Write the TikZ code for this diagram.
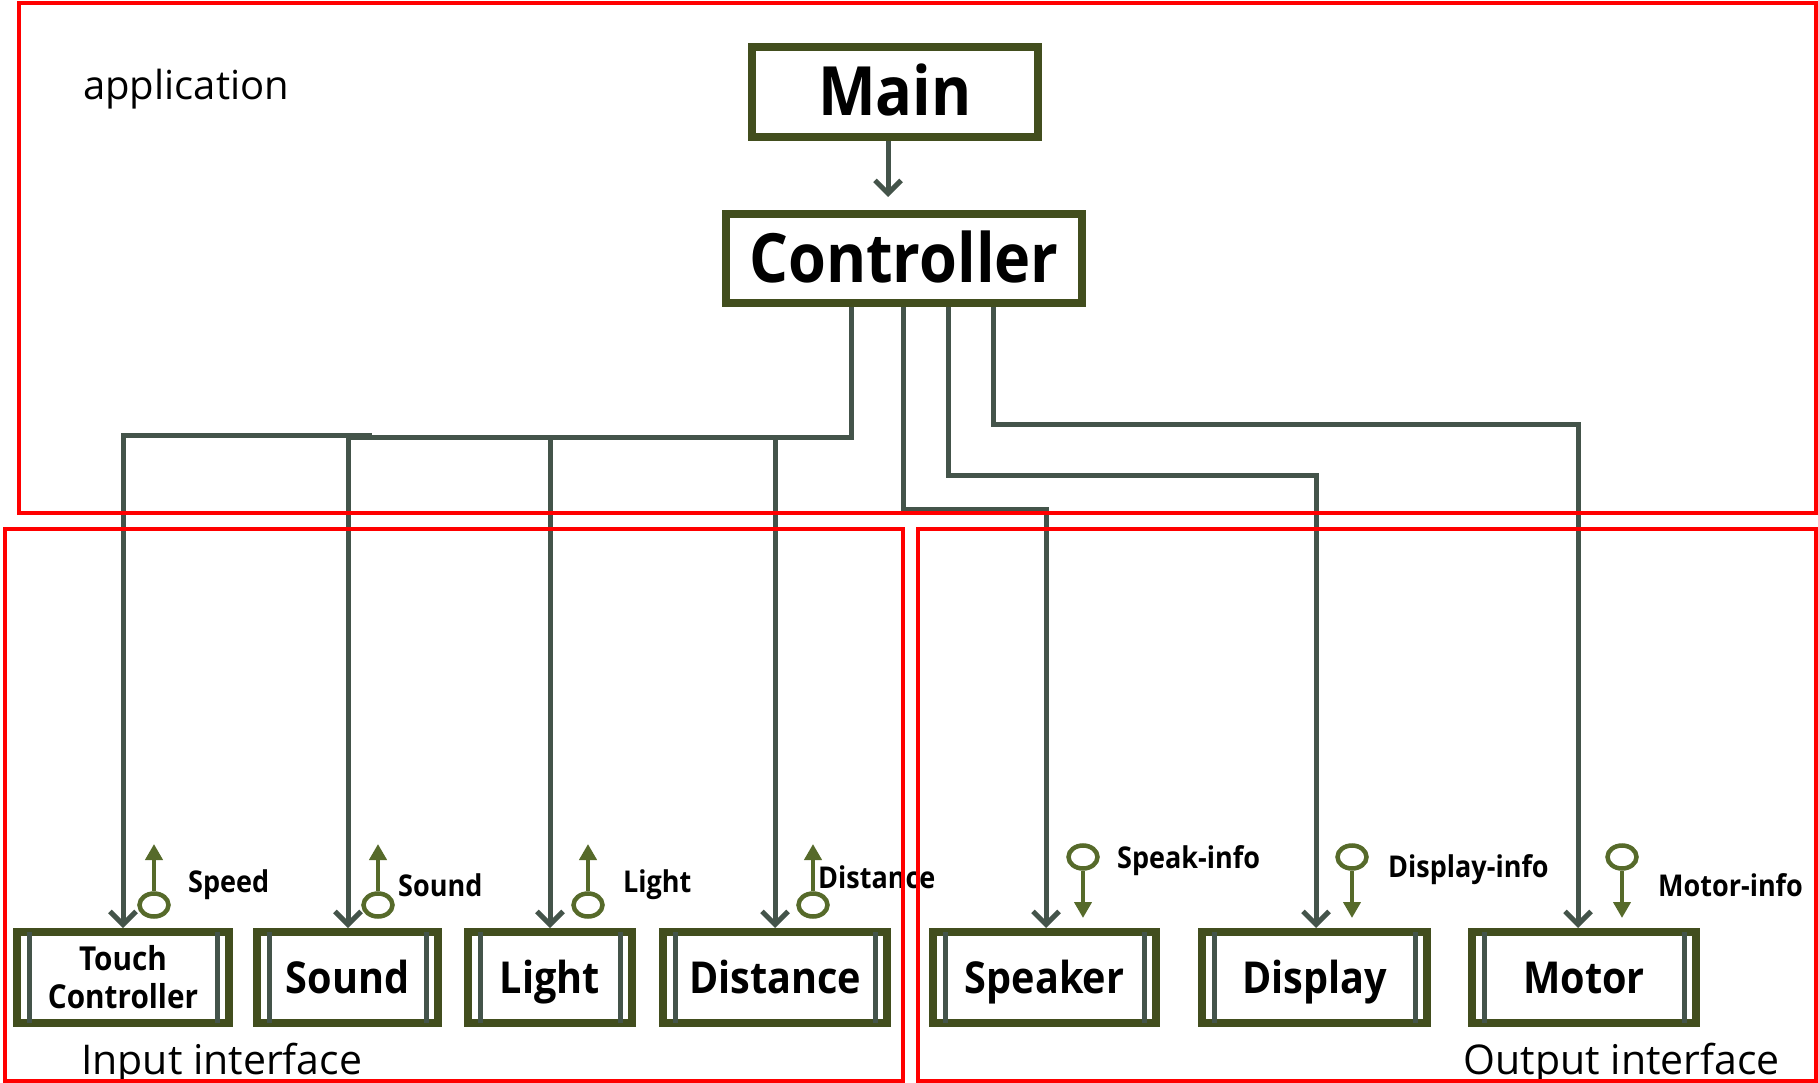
\documentclass[tikz,border=0pt]{standalone}
\usepackage{fontspec}
\setmainfont{Open Sans}[BoldFeatures={FakeStretch=0.9}]
\usetikzlibrary{arrows.meta,shapes.geometric,backgrounds}

\definecolor{regionred}{RGB}{255,0,0}
\definecolor{boxline}{RGB}{66,78,30}
\definecolor{wire}{RGB}{68,84,74}
\definecolor{flow}{RGB}{86,106,42}

\tikzset{
  region/.style={draw=regionred, line width=4pt},
  bigbox/.style={draw=boxline, line width=8pt, fill=white, inner sep=0pt,
    font=\bfseries\fontsize{68}{72}\selectfont, text height=48pt, text depth=0pt},
  modframe/.style={draw=boxline, line width=8pt, fill=white, inner sep=0pt,
    minimum height=91pt, align=center},
  module/.style={modframe, font=\bfseries\fontsize{44}{48}\selectfont,
    text height=31pt, text depth=0pt},
  bar/.style={draw=wire, line width=5pt},
  feed/.style={draw=wire, line width=5pt,
    -{Straight Barb[length=13pt,width=26pt,line width=5pt]}},
  wireline/.style={draw=wire, line width=5pt},
  dot/.style={ellipse, draw=flow, line width=4.5pt, minimum width=29pt,
    minimum height=23pt, inner sep=0pt},
  flowarrow/.style={draw=flow, line width=4.5pt,
    -{Triangle[length=16pt,width=17pt]}},
  flowlabel/.style={anchor=west, inner sep=0pt, font=\bfseries\fontsize{30}{34}\selectfont},
  regionlabel/.style={inner sep=0pt, font=\fontsize{41}{46}\selectfont},
}

\newcommand{\modbars}[1]{%
  \draw[bar] ([xshift=16pt,yshift=-4pt]#1.north west) -- ([xshift=16pt,yshift=4pt]#1.south west);
  \draw[bar] ([xshift=-16pt,yshift=-4pt]#1.north east) -- ([xshift=-16pt,yshift=4pt]#1.south east);
}

\begin{document}
\begin{tikzpicture}[x=1pt,y=-1pt]
\useasboundingbox (0,0) rectangle (1818,1083);

% top level
\node[bigbox, minimum width=286pt, minimum height=90pt] (main) at (895,92) {Main};
\node[bigbox, minimum width=356pt, minimum height=89pt] (ctrl) at (904,258.5) {Controller};

% interface modules
\node[modframe, minimum width=212pt, font=\bfseries\fontsize{33}{38}\selectfont]
  (touch) at (123,977.5) {Touch\\Controller};
\node[module, minimum width=181pt] (sound) at (347.5,977.5) {Sound};
\node[module, minimum width=164pt] (light) at (550,977.5) {Light};
\node[module, minimum width=224pt] (distance) at (775,977.5) {Distance};
\node[module, minimum width=223pt] (speaker) at (1044.5,977.5) {Speaker};
\node[module, minimum width=225pt] (display) at (1314.5,977.5) {Display};
\node[module, minimum width=224pt] (motor) at (1584,977.5) {Motor};
\foreach \m in {touch,sound,light,distance,speaker,display,motor} {\modbars{\m}}

% bend points of the call lines
\coordinate (busT) at (372,435);
\coordinate (busL) at (348,437);
\coordinate (bendSp) at (1046,509);
\coordinate (bendDi) at (1316,475);
\coordinate (bendMo) at (1578,424);

\begin{pgfonlayer}{background}
  \draw[feed] (main.south -| 888,0) -- ([yshift=13pt]ctrl.north -| 888,0);
  % calls to the input interface
  \draw[wireline] ([xshift=-53pt]ctrl.south) |- (busL);
  \draw[feed] (busL) -- (busL |- sound.north);
  \draw[feed] (busT) -| (touch.north);
  \draw[feed] (busL -| light.north) -- (light.north);
  \draw[feed] (busL -| distance.north) -- (distance.north);
  % calls to the output interface
  \draw[feed] ([xshift=-1pt]ctrl.south) |- (bendSp) -- (bendSp |- speaker.north);
  \draw[feed] ([xshift=44pt]ctrl.south) |- (bendDi) -- (bendDi |- display.north);
  \draw[feed] ([xshift=89pt]ctrl.south) |- (bendMo) -- (bendMo |- motor.north);
\end{pgfonlayer}

% data flows
\foreach \n/\x/\t/\lx/\ly in {dSpeed/154/Speed/188/885, dSound/378/Sound/398/885,
    dLight/588/Light/623/885, dDist/813/Distance/818/877} {
  \node[dot] (\n) at (\x,905) {};
  \coordinate (\n tip) at (\x,844);
  \draw[flowarrow] (\n.north) -- (\n tip);
  \node[flowlabel] (\n lab) at (\lx,\ly) {\t};
}
\foreach \n/\x/\t/\lx/\ly in {dSpk/1083/Speak-info/1117/861, dDsp/1352/Display-info/1388/870,
    dMot/1622/Motor-info/1658/885} {
  \node[dot] (\n) at (\x,857) {};
  \coordinate (\n tip) at (\x,918);
  \draw[flowarrow] (\n.south) -- (\n tip);
  \node[flowlabel] (\n lab) at (\lx,\ly) {\t};
}

% layer labels
\node[regionlabel, anchor=west, font=\fontsize{40}{44}\selectfont] (appl) at (83,89) {application};
\node[regionlabel, anchor=west] (inl) at (81,1064) {Input interface};
\node[regionlabel, anchor=east] (outl) at (1780,1064) {Output interface};

% layer frames
\draw[region] (19,3.5) rectangle (1816,513);
\draw[region] (5,528.5) rectangle (903,1080.5);
\draw[region] (917.5,528.5) rectangle (1816,1080.5);
\end{tikzpicture}
\end{document}
